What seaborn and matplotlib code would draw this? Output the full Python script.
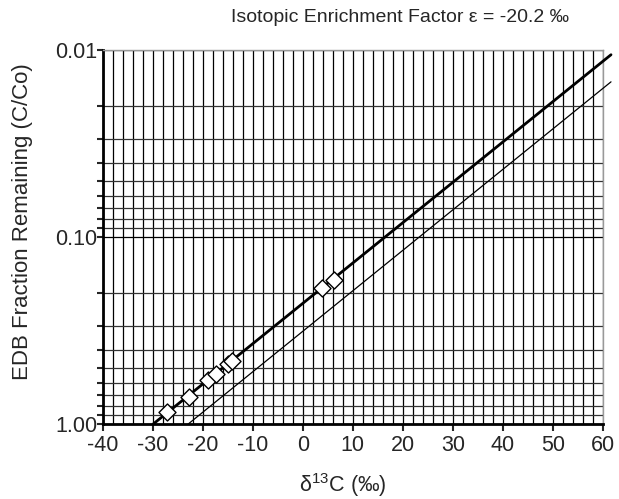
import numpy as np
import pandas as pd
import matplotlib
matplotlib.use('Agg')
import matplotlib.pyplot as plt
from matplotlib.ticker import FixedLocator, FixedFormatter, NullFormatter
import seaborn as sns

# Rayleigh model lines (end points)
thick_x = [-29.9, 61.6]
thick_y = [1.0, 0.0106]
thin_x = [-22.9, 61.6]
thin_y = [1.0, 0.0148]

# measured samples
sample_d13c = [-27.1, -22.8, -19.0, -17.3, -14.9, -14.1, 3.8, 6.2]
sample_frac = [0.865, 0.714, 0.582, 0.542, 0.480, 0.460, 0.188, 0.170]

x_ticks = [-40, -30, -20, -10, 0, 10, 20, 30, 40, 50, 60]
y_ticks = [0.01, 0.1, 1.0]
y_ticklabels = ['0.01', '0.10', '1.00']

sns.set_style('white')
plt.rcParams['font.family'] = ['Liberation Sans', 'DejaVu Sans']
plt.rcParams['axes.unicode_minus'] = False

fig = plt.figure(figsize=(6.19, 4.99), dpi=100)
ax = fig.add_axes([102.7 / 619, 1 - 424 / 499, (603 - 102.7) / 619, (424 - 50) / 499])

thick = pd.DataFrame({'x': thick_x, 'y': thick_y})
thin = pd.DataFrame({'x': thin_x, 'y': thin_y})
pts = pd.DataFrame({'x': sample_d13c, 'y': sample_frac})

ax.set_yscale('log')
sns.lineplot(data=thick, x='x', y='y', ax=ax, color='black', lw=2.0, clip_on=False, zorder=4)
sns.lineplot(data=thin, x='x', y='y', ax=ax, color='black', lw=0.9, clip_on=False, zorder=4)
sns.scatterplot(data=pts, x='x', y='y', ax=ax, marker='D', s=75, facecolor='white',
                edgecolor='black', linewidth=1.0, zorder=5, clip_on=False)

ax.set_xlim(-40, 60)
ax.set_ylim(1.0, 0.01)

ax.xaxis.set_major_locator(FixedLocator(x_ticks))
ax.xaxis.set_minor_locator(FixedLocator(np.arange(-40, 61, 2)))
ax.yaxis.set_major_locator(FixedLocator(y_ticks))
ax.yaxis.set_major_formatter(FixedFormatter(y_ticklabels))
ax.yaxis.set_minor_formatter(NullFormatter())
minor_y = [m * 10.0 ** e for e in (-2, -1) for m in range(2, 10)]
ax.yaxis.set_minor_locator(FixedLocator(minor_y))

ax.grid(which='major', axis='both', color='black', lw=0.9)
ax.grid(which='minor', axis='x', color='black', lw=0.9)
ax.grid(which='minor', axis='y', color='#333333', lw=0.9)

for s in ['left', 'bottom']:
    ax.spines[s].set_color('black')
    ax.spines[s].set_linewidth(2.0)
for s in ['top', 'right']:
    ax.spines[s].set_color('#999999')
    ax.spines[s].set_linewidth(1.0)

ax.tick_params(axis='x', which='major', direction='out', length=5, width=1.5,
               labelsize=15.5, bottom=True, pad=3)
ax.tick_params(axis='x', which='minor', length=0)
ax.tick_params(axis='y', which='both', direction='out', length=4, width=1.5,
               labelsize=15.5, left=True, pad=0)

ax.set_xlabel(r'δ$^{\mathregular{13}}$C (‰)', fontsize=15.5)
ax.set_ylabel('EDB Fraction Remaining (C/Co)', fontsize=16)
ax.xaxis.set_label_coords(0.48, -0.125)
ax.yaxis.set_label_coords(-0.14, 0.54)
fig.text(400 / 619, 1 - 18 / 499, 'Isotopic Enrichment Factor ε = -20.2 ‰',
         ha='center', va='center', fontsize=14)

fig.savefig('out.png', dpi=100)
